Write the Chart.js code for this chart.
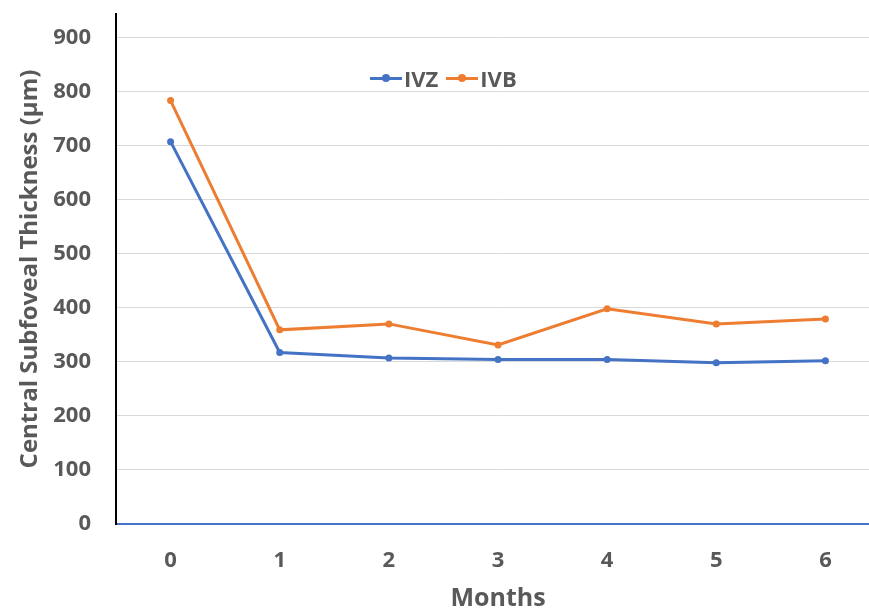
<!DOCTYPE html>
<html>
<head>
<meta charset="utf-8">
<script src="https://cdn.jsdelivr.net/npm/chart.js@4.4.1/dist/chart.umd.min.js"></script>
<style>
    html, body {
        margin: 0;
        padding: 0;
        background: #fff;
        overflow: hidden;
        width: 869px;
        height: 609px;
    }
    .wrap {
        position: absolute;
        left: 0;
        top: 0;
        width: 884px;
        height: 609px;
    }
    #legend {
        position: absolute;
        left: 370px;
        top: 63px;
        display: flex;
        align-items: center;
        font-family: "Open Sans", sans-serif;
        font-weight: bold;
        font-size: 22px;
        color: #595959;
    }
    .item {
        display: flex;
        align-items: center;
        margin-right: 8px;
    }
    .swatch {
        position: relative;
        width: 32px;
        height: 3px;
        margin-right: 2px;
    }
    .swatch .dot {
        position: absolute;
        left: 12px;
        top: -2.5px;
        width: 8px;
        height: 8px;
        border-radius: 50%;
    }
</style>
</head>
<body>
<div class="wrap">
    <canvas id="lineChart" width="884" height="609"></canvas>
    <div id="legend"></div>
</div>
<script>
const months = ["0", "1", "2", "3", "4", "5", "6"];
const ivzValues = [707, 317, 307, 304, 304, 298, 302];
const ivbValues = [783, 359, 370, 331, 398, 370, 379];
const seriesNames = ["IVZ", "IVB"];
const seriesColors = ["#4472C4", "#ED7D31"];
const yTicks = [0, 100, 200, 300, 400, 500, 600, 700, 800, 900];

const textColor = "#595959";
const fontFamily = "'Open Sans', sans-serif";

const datasets = [ivzValues, ivbValues].map((values, i) => ({
    label: seriesNames[i],
    data: values,
    borderColor: seriesColors[i],
    backgroundColor: seriesColors[i],
    borderWidth: 3,
    pointRadius: 3.5,
    pointBorderWidth: 0,
    tension: 0
}));

const ctx = document.getElementById("lineChart").getContext("2d");

const chart = new Chart(ctx, {
    type: "line",
    data: {
        labels: months,
        datasets: datasets
    },
    options: {
        responsive: false,
        animation: false,
        layout: { padding: { top: 14, left: 0, right: 0, bottom: 0 } },
        plugins: {
            legend: { display: false },
            tooltip: { enabled: false }
        },
        scales: {
            x: {
                offset: true,
                grid: { display: false, drawTicks: false },
                border: { color: "#4472C4", width: 2 },
                ticks: {
                    padding: 24,
                    color: textColor,
                    font: { family: fontFamily, size: 22, weight: "bold" }
                },
                title: {
                    display: true,
                    text: "Months",
                    color: textColor,
                    padding: 0,
                    font: { family: fontFamily, size: 25, weight: "bold", lineHeight: 0.8 }
                },
                afterFit: scale => {
                    scale.height = 85;
                    scale.paddingLeft = 0;
                    scale.paddingRight = 0;
                }
            },
            y: {
                min: 0,
                max: 943,
                grid: {
                    drawTicks: false,
                    color: c => (c.tick && c.tick.value === 0 ? "rgba(0,0,0,0)" : "#D9D9D9")
                },
                border: { color: "#000000", width: 2 },
                ticks: {
                    stepSize: 100,
                    padding: 25,
                    color: textColor,
                    font: { family: fontFamily, size: 22, weight: "bold" }
                },
                afterBuildTicks: scale => {
                    scale.ticks = yTicks.map(v => ({ value: v }));
                },
                title: {
                    display: true,
                    text: "Central Subfoveal Thickness (µm)",
                    color: textColor,
                    padding: { top: 16, bottom: 0 },
                    font: { family: fontFamily, size: 24, weight: "bold" }
                },
                afterFit: scale => {
                    scale.width = 116;
                    scale.paddingTop = 0;
                    scale.paddingBottom = 0;
                }
            }
        }
    }
});

// legend built from the datasets, placed inside the plot like the original
const legend = document.getElementById("legend");
chart.data.datasets.forEach(ds => {
    const item = document.createElement("div");
    item.className = "item";
    item.innerHTML =
        "<span class='swatch' style='background:" + ds.borderColor + "'>" +
        "<span class='dot' style='background:" + ds.borderColor + "'></span></span>" +
        "<span>" + ds.label + "</span>";
    legend.appendChild(item);
});
</script>
</body>
</html>
